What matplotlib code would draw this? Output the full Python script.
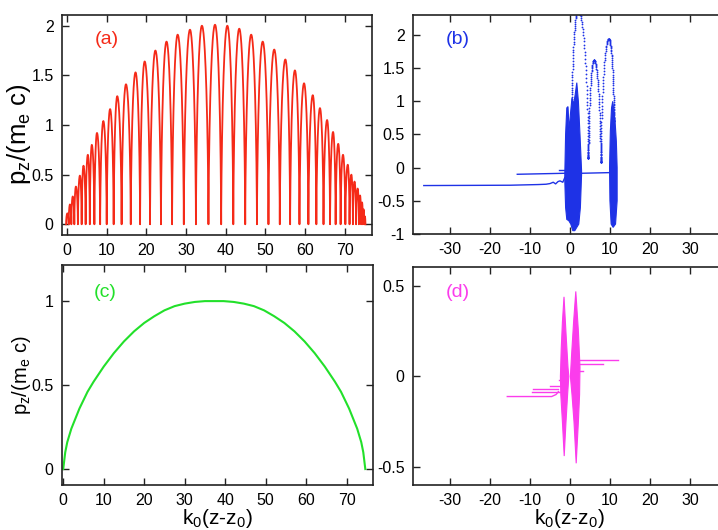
import matplotlib
matplotlib.use("Agg")
import matplotlib.pyplot as plt
import numpy as np
from matplotlib.ticker import FormatStrFormatter

plt.rcParams["font.family"] = ["Liberation Sans", "DejaVu Sans"]
plt.rcParams["axes.unicode_minus"] = False

# ---- panel (a): peaks of the arches (position, height)
a_peak_x = [0.15, 0.8, 1.5, 2.3, 3.3, 4.2, 5.3, 6.3, 7.6, 9.2, 10.9, 12.7, 14.9,
            17.3, 19.6, 22.3, 25.1, 27.9, 31.0, 34.0, 37.3, 40.4, 43.4, 46.4,
            49.3, 52.2, 55.0, 57.4, 59.7, 61.9, 63.7, 65.5, 67.0, 68.3, 69.5,
            70.7, 71.6, 72.4, 73.2, 73.8, 74.3, 74.7, 75.0]
a_peak_y = [0.11, 0.20, 0.28, 0.38, 0.49, 0.59, 0.70, 0.80, 0.92, 1.04, 1.16, 1.29,
            1.41, 1.53, 1.64, 1.75, 1.84, 1.91, 1.96, 2.00, 2.01, 2.00, 1.97,
            1.91, 1.84, 1.76, 1.66, 1.55, 1.42, 1.30, 1.17, 1.05, 0.93, 0.81,
            0.70, 0.60, 0.50, 0.43, 0.36, 0.29, 0.22, 0.15, 0.08]

# ---- panel (b)
b_flat1_x = [-36.6, -15, -8, -6, -5, -4.2, -3.6, -3.0, -2.5, -1.8, -1.3]
b_flat1_y = [-0.27, -0.265, -0.255, -0.25, -0.24, -0.22, -0.245, -0.21, -0.2, -0.22, -0.15]
b_flat2_x = [-13.2, -1.3]
b_flat2_y = [-0.10, -0.085]
b_flat3_x = [-2.7, -1.2]
b_flat3_y = [-0.03, -0.03]
b_flat4_x = [2.8, 10.0]
b_flat4_y = [-0.085, -0.075]
b_burst1_x = [-1.3, -1.1, -0.8, -0.5, -0.2, 0.1, 0.5, 0.9, 1.3, 1.7, 2.1, 2.5, 2.9,
              2.9, 2.6, 2.2, 1.7, 1.2, 0.7, 0.2, -0.3, -0.8, -1.1, -1.3]
b_burst1_y = [-0.1, 0.5, 0.9, 0.92, 0.55, 0.8, 1.05, 0.95, 1.1, 1.28, 1.0, 0.5, -0.05,
              -0.1, -0.6, -0.85, -0.9, -0.95, -0.95, -0.85, -0.8, -0.78, -0.6, -0.2]
b_burst2_x = [9.9, 10.1, 10.4, 10.7, 11.0, 11.3, 11.6, 11.8,
              11.8, 11.4, 10.8, 10.3, 10.0]
b_burst2_y = [0.0, 0.55, 0.9, 1.0, 0.85, 0.68, 0.4, 0.0,
              -0.5, -0.85, -0.9, -0.85, -0.5]
# dotted arches: left foot, peak, right foot
b_arch_xl = [0.4, 4.6, 7.7]
b_arch_yl = [0.8, 0.14, 0.08]
b_arch_xp = [2.0, 6.0, 9.7]
b_arch_yp = [2.38, 1.62, 1.94]
b_arch_xr = [4.6, 7.7, 11.0]
b_arch_yr = [0.14, 0.08, 0.7]

# ---- panel (c)
c_x = [0, 0.5, 1, 2, 3, 4, 5, 6, 7.5, 10, 12.5, 15, 17.5, 20, 22.5, 25, 27.5, 30,
       32.5, 35, 37.3, 39.6, 42.1, 44.6, 47.1, 49.6, 52.1, 54.6, 57.1, 59.6, 62.1,
       64.6, 67.1, 68.6, 69.6, 70.6, 71.6, 72.6, 73.6, 74.1, 74.6]
c_y = [0, 0.1, 0.16, 0.24, 0.3, 0.36, 0.41, 0.46, 0.52, 0.61, 0.69, 0.76, 0.82,
       0.87, 0.91, 0.945, 0.97, 0.985, 0.995, 1.0, 1.0, 1.0, 0.995, 0.985, 0.97,
       0.945, 0.91, 0.87, 0.82, 0.76, 0.69, 0.61, 0.52, 0.46, 0.41, 0.36, 0.3,
       0.24, 0.16, 0.1, 0]

# ---- panel (d)
d_lines_x = [[-15.7, -4.6, -3.5, -2.9], [-9.6, -2.5], [-9.35, -2.9], [-5.0, -2.0],
             [-2.75, -1.75], [2.1, 11.9], [2.1, 8.35], [2.1, 3.35]]
d_lines_y = [[-0.111, -0.111, -0.1, -0.084], [-0.085, -0.085], [-0.072, -0.072],
             [-0.052, -0.052], [-0.02, -0.02], [0.092, 0.092], [0.067, 0.067],
             [0.028, 0.028]]
d_spike1_x = [-1.5, -0.9, -0.5, -0.3, -0.6, -1.0, -1.45, -1.9, -2.3, -2.4, -2.2, -1.9]
d_spike1_y = [0.44, 0.2, 0.05, 0.0, -0.1, -0.25, -0.44, -0.25, -0.1, 0.0, 0.15, 0.3]
d_spike2_x = [1.45, 2.1, 2.5, 2.4, 2.1, 1.55, 1.0, 0.5, 0.1, 0.4, 0.9]
d_spike2_y = [0.47, 0.25, 0.05, -0.1, -0.25, -0.48, -0.25, -0.1, 0.0, 0.12, 0.3]

RED = "#f52a18"
BLUE = "#1e32e6"
GREEN = "#22e02a"
MAGENTA = "#fb3cec"


def half_arch(xb, yb, xp, yp, n=40):
    t = np.linspace(0, np.pi / 2, n)
    x = xb + (xp - xb) * (2 * t - np.sin(2 * t)) / np.pi
    y = yb + (yp - yb) * np.sin(t) ** 2
    return x, y


def arch(xl, yl, xp, yp, xr, yr, n=40):
    x1, y1 = half_arch(xl, yl, xp, yp, n)
    x2, y2 = half_arch(xr, yr, xp, yp, n)
    return np.concatenate([x1, x2[::-1]]), np.concatenate([y1, y2[::-1]])


W, H = 718, 530
fig = plt.figure(figsize=(W / 100, H / 100), dpi=100)


def add_ax(l, r, t, b):
    return fig.add_axes([l / W, 1 - b / H, (r - l) / W, (b - t) / H])


def style(ax):
    for s in ax.spines.values():
        s.set_linewidth(1.2)
        s.set_color("#222222")
    ax.tick_params(direction="in", top=True, right=True, length=5, width=1,
                   labelsize=11.5, color="#222222", pad=6)
    ax.xaxis.set_major_formatter(FormatStrFormatter("%g"))
    ax.yaxis.set_major_formatter(FormatStrFormatter("%g"))


ylab = r"p$_\mathregular{z}$/(m$_\mathregular{e}$ c)"
xlab = r"k$_\mathregular{0}$(z-z$_\mathregular{0}$)"

# (a)
ax = add_ax(62, 372, 15, 235)
px = np.array(a_peak_x)
troughs = np.concatenate([[px[0] - (px[1] - px[0]) / 2], (px[1:] + px[:-1]) / 2,
                          [px[-1] + (px[-1] - px[-2]) / 2]])
xs, ys = [], []
for i in range(len(px)):
    x, y = arch(troughs[i], 0, px[i], a_peak_y[i], troughs[i + 1], 0)
    xs.append(x)
    ys.append(y)
ax.plot(np.concatenate(xs), np.concatenate(ys), color=RED, lw=1.3)
ax.set_xlim(-1.2, 76.8)
ax.set_ylim(-0.108, 2.108)
ax.set_xticks(np.arange(0, 71, 10))
ax.set_yticks([0, 0.5, 1, 1.5, 2])
ax.set_ylabel(ylab, fontsize=18.5)
ax.yaxis.set_label_coords(-0.093, 0.46)
ax.text(0.143, 0.89, "(a)", color=RED, fontsize=14, transform=ax.transAxes,
        ha="center", va="center")
style(ax)

# (b)
ax = add_ax(413, 725, 15, 234)
ax.plot(b_flat1_x, b_flat1_y, color=BLUE, lw=1)
ax.plot(b_flat2_x, b_flat2_y, color=BLUE, lw=1)
ax.plot(b_flat3_x, b_flat3_y, color=BLUE, lw=1)
ax.plot(b_flat4_x, b_flat4_y, color=BLUE, lw=1)
ax.fill(b_burst1_x, b_burst1_y, color=BLUE, lw=0.8)
ax.fill(b_burst2_x, b_burst2_y, color=BLUE, lw=0.8)
for i in range(len(b_arch_xp)):
    x, y = arch(b_arch_xl[i], b_arch_yl[i], b_arch_xp[i], b_arch_yp[i],
                b_arch_xr[i], b_arch_yr[i], n=60)
    ax.plot(x, y, ls="none", marker="o", ms=1.3, mew=0, color=BLUE)
ax.set_xlim(-39.3, 38.8)
ax.set_ylim(-1.0, 2.3)
ax.set_xticks(np.arange(-30, 31, 10))
ax.set_yticks([-1, -0.5, 0, 0.5, 1, 1.5, 2])
ax.text(0.143, 0.89, "(b)", color=BLUE, fontsize=14, transform=ax.transAxes,
        ha="center", va="center")
style(ax)

# (c)
ax = add_ax(62, 373, 265, 485)
ax.plot(c_x, c_y, color=GREEN, lw=1.5)
ax.set_xlim(-0.3, 76.5)
ax.set_ylim(-0.095, 1.215)
ax.set_xticks(np.arange(0, 71, 10))
ax.set_yticks([0, 0.5, 1])
ax.set_ylabel(ylab, fontsize=14.5)
ax.yaxis.set_label_coords(-0.093, 0.5)
ax.set_xlabel(xlab, fontsize=15)
ax.xaxis.set_label_coords(0.5, -0.102)
ax.text(0.14, 0.877, "(c)", color=GREEN, fontsize=14, transform=ax.transAxes,
        ha="center", va="center")
style(ax)

# (d)
ax = add_ax(413, 725, 267, 485)
for lx, ly in zip(d_lines_x, d_lines_y):
    ax.plot(lx, ly, color=MAGENTA, lw=1)
ax.fill(d_spike1_x, d_spike1_y, color=MAGENTA, lw=0.8)
ax.fill(d_spike2_x, d_spike2_y, color=MAGENTA, lw=0.8)
ax.set_xlim(-39.3, 38.8)
ax.set_ylim(-0.6, 0.605)
ax.set_xticks(np.arange(-30, 31, 10))
ax.set_yticks([-0.5, 0, 0.5])
ax.set_xlabel(xlab, fontsize=15)
ax.xaxis.set_label_coords(0.5, -0.103)
ax.text(0.143, 0.885, "(d)", color=MAGENTA, fontsize=14, transform=ax.transAxes,
        ha="center", va="center")
style(ax)

fig.savefig("out.png", dpi=100)
